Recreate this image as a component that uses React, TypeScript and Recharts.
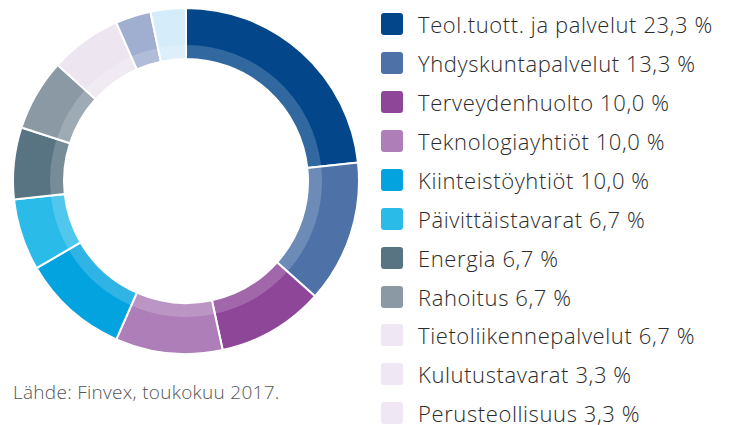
import React from 'react';
import { PieChart, Pie, Cell, Legend } from 'recharts';

const categories = [
  'Teol.tuott. ja palvelut',
  'Yhdyskuntapalvelut',
  'Terveydenhuolto',
  'Teknologiayhtiöt',
  'Kiinteistöyhtiöt',
  'Päivittäistavarat',
  'Energia',
  'Rahoitus',
  'Tietoliikennepalvelut',
  'Kulutustavarat',
  'Perusteollisuus',
];
const values = [23.3, 13.3, 10.0, 10.0, 10.0, 6.7, 6.7, 6.7, 6.7, 3.3, 3.3];
const valueLabels = ['23,3 %', '13,3 %', '10,0 %', '10,0 %', '10,0 %', '6,7 %', '6,7 %', '6,7 %', '6,7 %', '3,3 %', '3,3 %'];
const sliceColors = ['#03478a', '#4e72a8', '#8e4699', '#ad7eb8', '#03a3e0', '#2bbbe9', '#587482', '#8a99a4', '#ede6f1', '#a0aed0', '#d5ecfa'];
const legendColors = ['#03478a', '#4e72a8', '#8e4699', '#ad7eb8', '#03a3e0', '#2bbbe9', '#587482', '#8a99a4', '#efe7f3', '#efe7f3', '#efe7f3'];
const sourceText = 'Lähde: Finvex, toukokuu 2017.';

const data = categories.map((name, i) => ({ name, value: values[i], label: valueLabels[i] }));

const FONT = '"Open Sans", Lato, sans-serif';

const LegendContent = () => (
  <div style={{ fontFamily: FONT }}>
    {data.map((d, i) => (
      <div key={d.name} style={{ display: 'flex', alignItems: 'center', height: 38.95 }}>
        <div style={{ width: 22, height: 22, borderRadius: 3, background: legendColors[i], marginRight: 15, flex: 'none' }} />
        <span
          style={{
            fontSize: 22,
            lineHeight: '22px',
            fontWeight: 300,
            letterSpacing: 0.6,
            color: '#2b2b2b',
            whiteSpace: 'nowrap',
          }}
        >
          {d.name} {d.label}
        </span>
      </div>
    ))}
  </div>
);

export default function App() {
  return (
    <div style={{ position: 'absolute', left: 0, top: 0, width: 732, height: 425, background: '#fff', overflow: 'hidden' }}>
      <PieChart width={732} height={425} margin={{ top: 0, right: 0, bottom: 0, left: 0 }}>
        <Pie
          data={data}
          dataKey="value"
          nameKey="name"
          cx={186}
          cy={181}
          innerRadius={122}
          outerRadius={173}
          startAngle={90}
          endAngle={-270}
          stroke="#fff"
          strokeWidth={2}
          isAnimationActive={false}
        >
          {data.map((d, i) => (
            <Cell key={d.name} fill={sliceColors[i]} />
          ))}
        </Pie>
        <Pie
          data={data}
          dataKey="value"
          nameKey="name"
          cx={186}
          cy={181}
          innerRadius={122}
          outerRadius={136}
          startAngle={90}
          endAngle={-270}
          fill="#fff"
          fillOpacity={0.18}
          stroke="none"
          isAnimationActive={false}
        />
        <Legend
          content={<LegendContent />}
          layout="vertical"
          verticalAlign="top"
          align="right"
          wrapperStyle={{ position: 'absolute', left: 381, top: 4.5, width: 350 }}
        />
      </PieChart>
      <div
        style={{
          position: 'absolute',
          left: 13,
          top: 382,
          fontFamily: FONT,
          fontSize: 19,
          lineHeight: '20px',
          fontWeight: 300,
          letterSpacing: 0.28,
          color: '#555',
          whiteSpace: 'nowrap',
        }}
      >
        {sourceText}
      </div>
    </div>
  );
}
